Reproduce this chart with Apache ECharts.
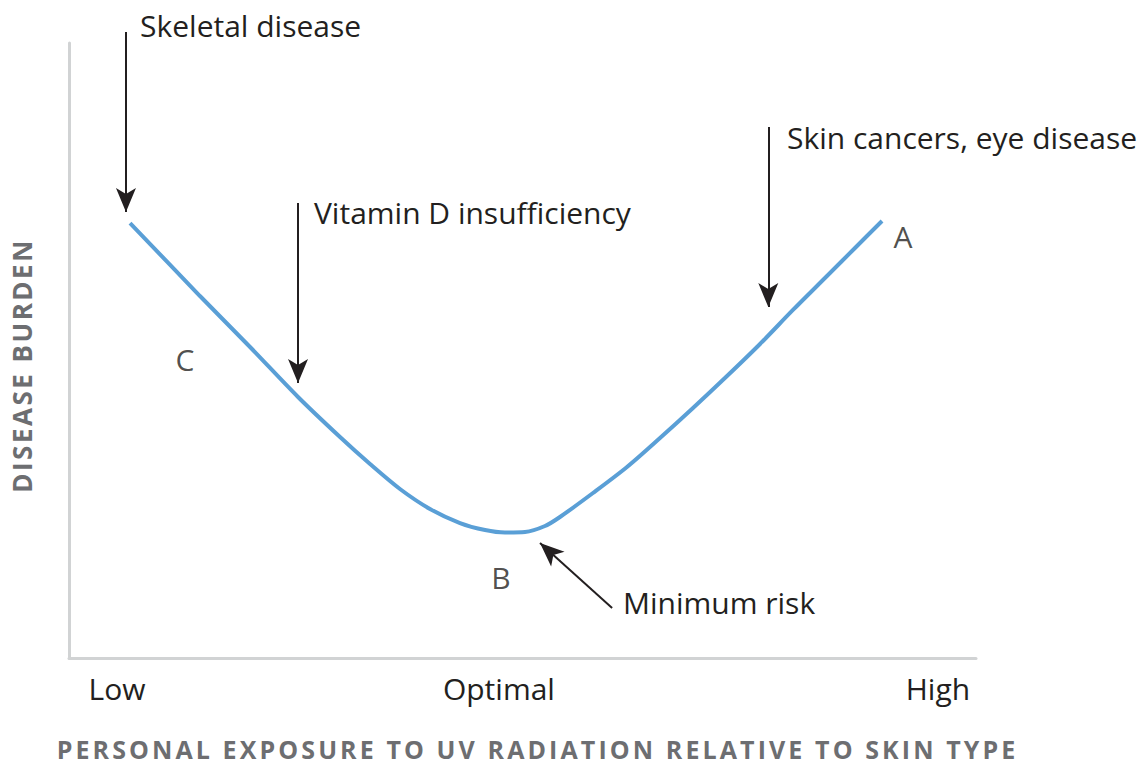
<!DOCTYPE html>
<html><head><meta charset="utf-8">
<script src="https://cdn.jsdelivr.net/npm/echarts@6/dist/echarts.min.js"></script>
<style>
html,body{margin:0;padding:0;background:#fff}
#c{width:1140px;height:765px}
#c svg text[style*="bold"]{letter-spacing:2.5px}
#c svg text[style*="bold"][style*="25px"]{letter-spacing:3.1px}
</style>
</head><body><div id="c"></div>
<script>
// Curve (x: exposure 0-100, y: disease burden 0-100)
const curveX = [6.73, 14.44, 19.96, 25.25, 29.88, 33.19, 36.49, 39.80, 43.11, 45.87, 48.07, 50.28, 52.48, 54.13, 57.77, 61.52, 65.16, 68.80, 72.55, 76.19, 79.82, 83.57, 86.66, 89.64];
const curveY = [70.73, 58.86, 50.57, 42.44, 35.93, 31.54, 27.48, 24.23, 21.95, 20.81, 20.41, 20.49, 21.46, 22.93, 26.83, 31.06, 35.77, 40.65, 45.85, 51.06, 56.59, 62.11, 66.67, 71.06];
// Tick labels
const tickValues = [5.3, 47.4, 95.8];
const tickLabels = ['Low', 'Optimal', 'High'];
// Annotation arrows [x1, y1, x2(tip), y2(tip)]
const arrows = [
  [6.28, 101.79, 6.28, 72.52],
  [25.25, 73.98, 25.25, 44.72],
  [77.10, 86.34, 77.10, 57.07],
  [59.88, 8.13, 51.93, 18.70]
];
// Annotation texts (left anchored)
const noteTexts = ['Skeletal disease', 'Vitamin D insufficiency', 'Skin cancers, eye disease', 'Minimum risk'];
const notePos = [[7.83, 102.93], [27.01, 72.52], [79.16, 84.63], [61.08, 9.02]];
// Point letters (centred)
const letters = ['A', 'B', 'C'];
const letterPos = [[91.95, 68.62], [47.63, 13.09], [12.79, 48.62]];

const FONT = 'Open Sans';
const INK = '#231f20';
const chart = echarts.init(document.getElementById('c'), null, {renderer: 'svg'});
const hiddenAxis = {show: false, type: 'value', min: 0, max: 100};
chart.setOption({
  animation: false,
  grid: [
    {left: 69, right: 164, top: 43, bottom: 107, outerBoundsMode: 'none', containLabel: false},
    {left: 69, right: 164, top: 0, bottom: 107, outerBoundsMode: 'none', containLabel: false}
  ],
  xAxis: [{
    type: 'value', min: 0, max: 100, gridIndex: 0,
    axisLine: {show: true, lineStyle: {color: '#d1d3d4', width: 3}},
    axisTick: {show: false}, splitLine: {show: false},
    axisLabel: {
      customValues: tickValues, margin: 15,
      formatter: v => tickLabels[tickValues.indexOf(v)] || '',
      color: INK, fontSize: 30, fontFamily: FONT
    },
    name: 'PERSONAL EXPOSURE TO UV RADIATION RELATIVE TO SKIN TYPE',
    nameLocation: 'middle', nameGap: 80,
    nameTextStyle: {color: '#6d6e71', fontSize: 25, lineHeight: 22, fontWeight: 'bold', fontFamily: FONT, padding: [0, 0, 0, 30]}
  }, Object.assign({}, hiddenAxis, {gridIndex: 1})],
  yAxis: [{
    type: 'value', min: 0, max: 100, gridIndex: 0,
    axisLine: {show: true, lineStyle: {color: '#d1d3d4', width: 3}},
    axisTick: {show: false}, splitLine: {show: false}, axisLabel: {show: false},
    name: 'DISEASE BURDEN', nameLocation: 'middle', nameGap: 34,
    nameTextStyle: {color: '#6d6e71', fontSize: 26, fontWeight: 'bold', fontFamily: FONT, padding: [0, 30, 0, 0]}
  }, Object.assign({}, hiddenAxis, {gridIndex: 1, max: 107})],
  series: [{
    type: 'line', xAxisIndex: 0, yAxisIndex: 0,
    data: curveX.map((x, i) => [x, curveY[i]]),
    smooth: 0.3, showSymbol: false,
    lineStyle: {color: '#5a9fd6', width: 4}
  }, {
    type: 'scatter', xAxisIndex: 1, yAxisIndex: 1, silent: true,
    symbolSize: 0,
    data: letterPos.map((p, i) => ({value: p, name: letters[i]})),
    label: {show: true, position: 'inside', formatter: p => p.name, color: INK, fontSize: 30, fontFamily: FONT},
    markLine: {
      silent: true, symbol: ['none', 'arrow'], symbolSize: 18,
      lineStyle: {color: INK, width: 2, type: 'solid', opacity: 1},
      itemStyle: {color: INK},
      label: {show: false}, emphasis: {disabled: true},
      data: arrows.map(a => [
        {coord: [a[0], a[1]], symbol: 'none'},
        {coord: [a[2], a[3]], symbol: 'arrow', symbolSize: [15, 24]}
      ])
    },
    markPoint: {
      silent: true, symbol: 'circle', symbolSize: 0,
      label: {show: true, position: 'right', distance: 0, formatter: p => p.name, color: INK, fontSize: 30, fontFamily: FONT},
      data: noteTexts.map((t, i) => ({coord: notePos[i], name: t}))
    }
  }]
});
</script></body></html>
